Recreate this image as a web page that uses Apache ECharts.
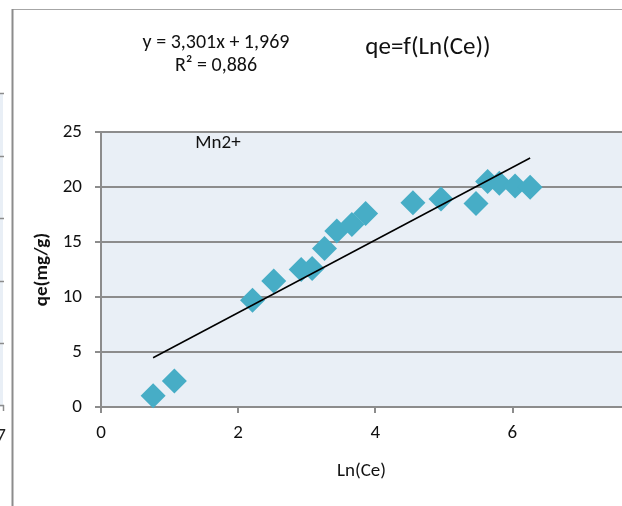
<!DOCTYPE html>
<html>
<head>
<meta charset="utf-8">
<script src="https://cdn.jsdelivr.net/npm/echarts@6/dist/echarts.min.js"></script>
<style>
html,body{margin:0;padding:0;background:#fff;}
#c{width:622px;height:506px;}
</style>
</head>
<body>
<div id="c"></div>
<script>
// Data
var lnCe = [0.76, 1.07, 2.21, 2.52, 2.92, 3.08, 3.26, 3.44, 3.66, 3.86, 4.55, 4.96, 5.47, 5.64, 5.81, 6.04, 6.26];
var qe   = [1.03, 2.36, 9.70, 11.45, 12.50, 12.60, 14.40, 16.00, 16.60, 17.60, 18.57, 18.90, 18.50, 20.50, 20.33, 20.10, 19.97];
// Trendline as displayed on the chart
var slope = 3.301;
var intercept = 1.969;
var equationText = 'y = 3,301x + 1,969';
var r2Text = 'R² = 0,886';
var chartTitle = 'qe=f(Ln(Ce))';
var seriesLabel = 'Mn2+';
var xTicks = [0, 2, 4, 6];
var yTicks = [0, 5, 10, 15, 20, 25];
var xVisibleMax = 7.6; // the plot is cut off by the picture's right edge

var FONT = 'Carlito, Lato, "Open Sans", sans-serif';

var points = lnCe.map(function (x, i) { return [x, qe[i]]; });
var xmin = Math.min.apply(null, lnCe), xmax = Math.max.apply(null, lnCe);
var trend = [[xmin, slope * xmin + intercept], [xmax, slope * xmax + intercept]];

var chart = echarts.init(document.getElementById('c'), null, {renderer: 'canvas'});

// Decorative frame fragments (neighbouring chart edge visible in the reference)
var frag = [];
frag.push({type: 'rect', shape: {x: 0, y: 93, width: 3, height: 314}, style: {fill: '#e9eff6'}, silent: true});
frag.push({type: 'line', shape: {x1: 0, y1: 93.5, x2: 4, y2: 93.5}, style: {stroke: '#8c8c8c', lineWidth: 1.5}});
[156, 218, 281, 343, 405].forEach(function (yy) {
  frag.push({type: 'line', shape: {x1: 0, y1: yy + 0.5, x2: 4, y2: yy + 0.5}, style: {stroke: '#8c8c8c', lineWidth: 1.5}});
});
frag.push({type: 'line', shape: {x1: 3.5, y1: 405, x2: 3.5, y2: 411}, style: {stroke: '#8c8c8c', lineWidth: 1.5}});
frag.push({type: 'text', x: 1, y: 436, style: {text: '7', fill: '#222', font: '19px ' + FONT, textAlign: 'center', textVerticalAlign: 'middle'}});
frag.push({type: 'line', shape: {x1: 12, y1: 9.5, x2: 622, y2: 9.5}, style: {stroke: '#a6a6a6', lineWidth: 1}});
frag.push({type: 'line', shape: {x1: 12.5, y1: 9, x2: 12.5, y2: 506}, style: {stroke: '#8c8c8c', lineWidth: 2}});

var texts = [
  {type: 'text', x: 216, y: 43, style: {text: equationText, fill: '#111', font: '20px ' + FONT, textAlign: 'center', textVerticalAlign: 'middle'}},
  {type: 'text', x: 216, y: 66, style: {text: r2Text, fill: '#111', font: '20px ' + FONT, textAlign: 'center', textVerticalAlign: 'middle'}},
  {type: 'text', x: 428, y: 48, style: {text: chartTitle, fill: '#111', font: '25px ' + FONT, textAlign: 'center', textVerticalAlign: 'middle'}},
  {type: 'text', x: 218, y: 143, style: {text: seriesLabel, fill: '#111', font: '19px ' + FONT, textAlign: 'center', textVerticalAlign: 'middle'}}
];

chart.setOption({
  animation: false,
  backgroundColor: '#ffffff',
  grid: {left: 101, top: 132, right: 0, bottom: 99, show: true, backgroundColor: '#e9eff6', borderWidth: 0},
  xAxis: {
    type: 'value', min: xTicks[0], max: xVisibleMax, interval: 2,
    name: 'Ln(Ce)', nameLocation: 'middle', nameGap: 55,
    nameTextStyle: {color: '#111', fontSize: 19, fontFamily: FONT},
    axisLine: {show: true, lineStyle: {color: '#8c8c8c', width: 2}},
    axisTick: {show: true, length: 6, customValues: xTicks, lineStyle: {color: '#8c8c8c', width: 2}},
    axisLabel: {
      color: '#111', fontSize: 19, fontFamily: FONT, margin: 17, customValues: xTicks,
      formatter: function (v) { return xTicks.indexOf(v) >= 0 ? String(v) : ''; }
    },
    splitLine: {show: false}
  },
  yAxis: {
    type: 'value', min: yTicks[0], max: yTicks[yTicks.length - 1], interval: 5,
    name: 'qe(mg/g)', nameLocation: 'middle', nameGap: 49, nameRotate: 90,
    nameTextStyle: {color: '#111', fontSize: 19, fontWeight: 'bold', fontFamily: FONT},
    axisLine: {show: true, lineStyle: {color: '#8c8c8c', width: 2}},
    axisTick: {show: true, length: 6, lineStyle: {color: '#8c8c8c', width: 2}},
    axisLabel: {color: '#111', fontSize: 19, fontFamily: FONT, margin: 19},
    splitLine: {show: true, lineStyle: {color: '#8c8c8c', width: 2}}
  },
  series: [
    {
      type: 'scatter', data: points, symbol: 'diamond', symbolSize: 25,
      itemStyle: {color: '#47adc6', opacity: 1}, z: 3
    },
    {
      type: 'line', data: trend, symbol: 'none',
      lineStyle: {color: '#000', width: 1.5}, z: 4
    }
  ],
  graphic: frag.concat(texts)
});
</script>
</body>
</html>
